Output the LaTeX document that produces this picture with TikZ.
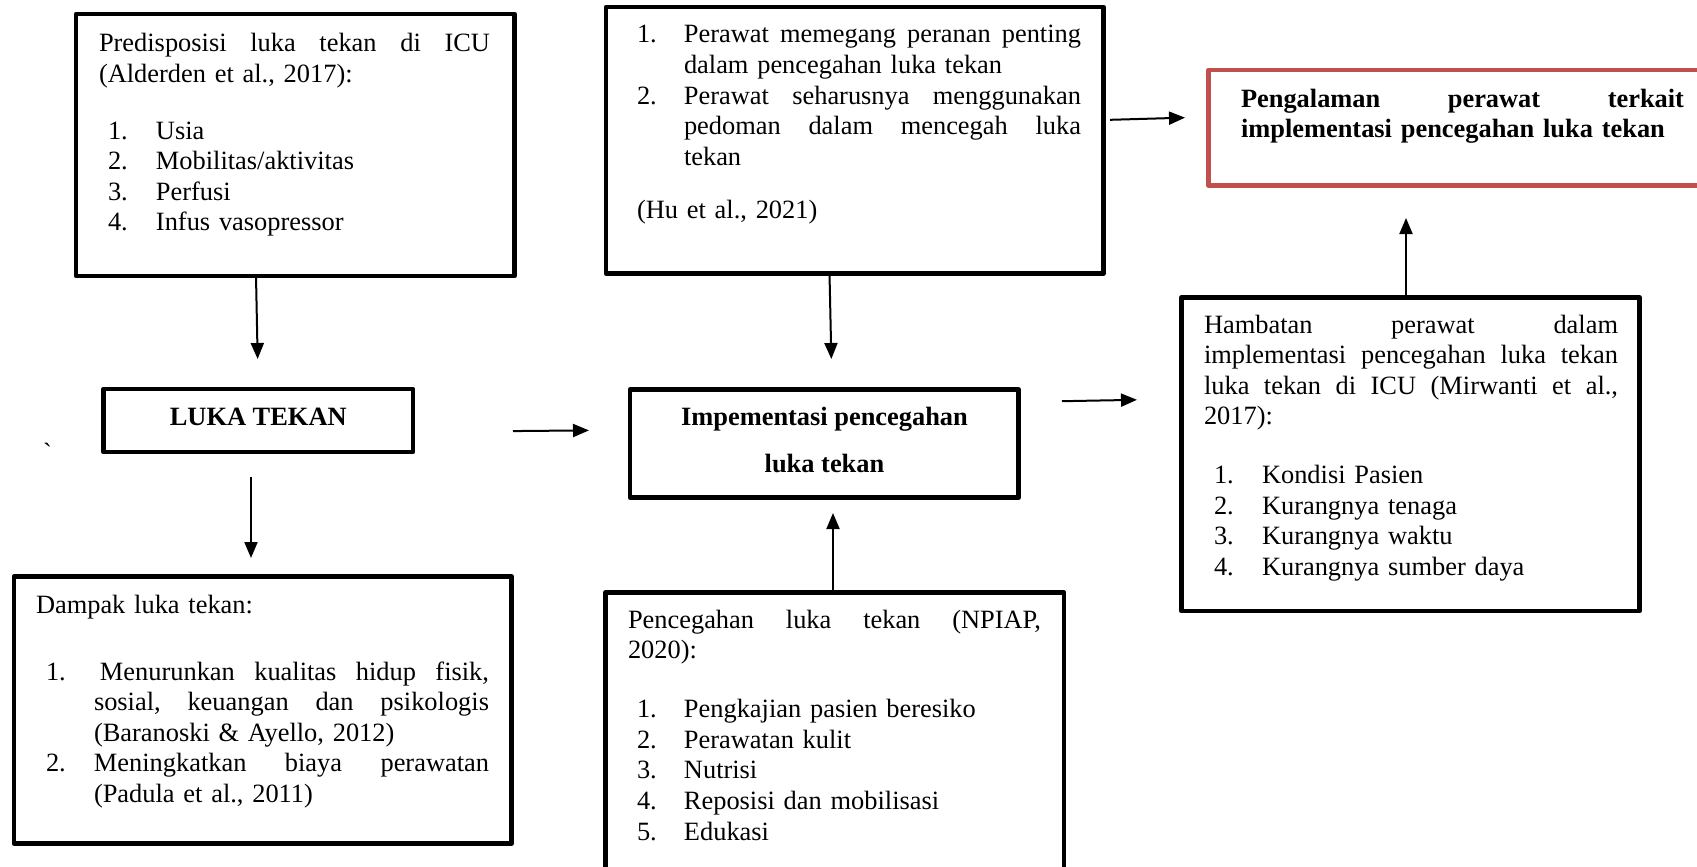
\documentclass[tikz,border=0pt]{standalone}
\usepackage{fontspec}
\setmainfont{Liberation Serif}
\newfontfamily\rawserif{Liberation Serif}
\usetikzlibrary{arrows.meta}
\definecolor{boxred}{RGB}{192,80,77}
\newcommand\jl[2]{\leavevmode\hbox to #1{\frenchspacing\spaceskip=0.25em plus 1fil\relax\ignorespaces #2\unskip}}
\begin{document}
\begin{tikzpicture}[x=1pt,y=-1pt,
  box/.style={draw, rectangle, line width=4.5pt, line join=round, outer sep=0pt, inner sep=0pt},
  arr/.style={line width=2pt, -{Triangle[length=16pt,width=13pt]}},
  txt/.style={inner sep=0pt, outer sep=0pt, anchor=base west, text width=520pt,
    font=\fontsize{26.4pt}{30.6pt}\selectfont},
  btxt/.style={inner sep=0pt, outer sep=0pt, anchor=base,
    font=\fontsize{26.4pt}{30.6pt}\selectfont\bfseries}
]
\useasboundingbox (0,0) rectangle (1697,867);
\fill[white] (0,0) rectangle (1697,867);
\clip (0,0) rectangle (1697,867);

% boxes
\node[box, minimum width=438.5pt, minimum height=262pt] (P) at (295.25,145) {};
\node[box, minimum width=497.5pt, minimum height=266.5pt] (T) at (854.75,140.25) {};
\node[box, draw=boxred, minimum width=501.5pt, minimum height=115.5pt] (R) at (1459.25,127.75) {};
\node[box, minimum width=309.5pt, minimum height=63pt] (L) at (258.25,420.5) {};
\node[box, minimum width=388.5pt, minimum height=108pt] (I) at (824.25,443.5) {};
\node[box, minimum width=458pt, minimum height=313.5pt] (H) at (1410.5,454.25) {};
\node[box, minimum width=497.5pt, minimum height=267pt] (D) at (262.75,710) {};
\node[box, minimum width=458.5pt, minimum height=276.5pt] (N) at (834.75,730.75) {};

% texts
\node[txt] (Ptxt) at (99,52) {%
\jl{391pt}{Predisposisi luka tekan di ICU}\\
(Alderden et al., 2017):\\[26pt]
\hspace*{9pt}\makebox[48pt][l]{1.}Usia\\
\hspace*{9pt}\makebox[48pt][l]{2.}Mobilitas/aktivitas\\
\hspace*{9pt}\makebox[48pt][l]{3.}Perfusi\\
\hspace*{9pt}\makebox[48pt][l]{4.}Infus vasopressor};

\node[txt] (Ttxt) at (637,43) {%
\makebox[47pt][l]{1.}\jl{397pt}{Perawat memegang peranan penting}\\
\hspace*{47pt}dalam pencegahan luka tekan\\
\makebox[47pt][l]{2.}\jl{397pt}{Perawat seharusnya menggunakan}\\
\hspace*{47pt}\jl{397pt}{pedoman dalam mencegah luka}\\
\hspace*{47pt}tekan\\[22.4pt]
(Hu et al., 2021)};

\node[txt, font=\fontsize{26.4pt}{30.6pt}\selectfont\bfseries] (Rtxt) at (1241,107) {%
\jl{443pt}{Pengalaman perawat terkait}\\
implementasi pencegahan luka tekan};

\node[btxt] (Ltxt) at (258.25,425) {LUKA TEKAN};
\node[btxt] (Itxt1) at (824.5,425) {Impementasi pencegahan};
\node[btxt] (Itxt2) at (824.5,472) {luka tekan};

\node[txt] (Htxt) at (1204,333) {%
\jl{414pt}{Hambatan perawat dalam}\\
\jl{414pt}{implementasi pencegahan luka tekan}\\
\jl{414pt}{luka tekan di ICU (Mirwanti et al.,}\\
2017):\\[28pt]
\hspace*{10pt}\makebox[48pt][l]{1.}Kondisi Pasien\\
\hspace*{10pt}\makebox[48pt][l]{2.}Kurangnya tenaga\\
\hspace*{10pt}\makebox[48pt][l]{3.}Kurangnya waktu\\
\hspace*{10pt}\makebox[48pt][l]{4.}Kurangnya sumber daya};

\node[txt] (Dtxt) at (36,613) {%
Dampak luka tekan:\\[36.4pt]
\hspace*{10pt}\makebox[48pt][l]{1.}\hspace*{6pt}\jl{389pt}{Menurunkan kualitas hidup fisik,}\\
\hspace*{58pt}\jl{395pt}{sosial, keuangan dan psikologis}\\
\hspace*{58pt}(Baranoski \& Ayello, 2012)\\
\hspace*{10pt}\makebox[48pt][l]{2.}\jl{395pt}{Meningkatkan biaya perawatan}\\
\hspace*{58pt}(Padula et al., 2011)};

\node[txt] (Ntxt) at (628,628) {%
\jl{413pt}{Pencegahan luka tekan (NPIAP,}\\
2020):\\[28.4pt]
\hspace*{9pt}\makebox[47pt][l]{1.}Pengkajian pasien beresiko\\
\hspace*{9pt}\makebox[47pt][l]{2.}Perawatan kulit\\
\hspace*{9pt}\makebox[47pt][l]{3.}Nutrisi\\
\hspace*{9pt}\makebox[47pt][l]{4.}Reposisi dan mobilisasi\\
\hspace*{9pt}\makebox[47pt][l]{5.}Edukasi};

\node[inner sep=0pt, anchor=base west, font=\rawserif\fontsize{26.4pt}{30.6pt}\selectfont] (grave) at (43,461) {`};

% connectors
\draw[arr, shorten >=30pt] ([xshift=-39.25pt]P.south) -- (L.north);
\draw[arr, shorten >=30.5pt] ([xshift=-25.25pt]T.south) -- ([xshift=7.75pt]I.north);
\draw[arr, shorten <=6.5pt, shorten >=23.5pt] ([yshift=20.25pt]T.east) -- ([yshift=10.75pt]R.west);
\draw[arr, shorten <=100pt, shorten >=41pt] ([yshift=-11.5pt]L.east) -- ([yshift=13.5pt]I.west);
\draw[arr, shorten <=43.5pt, shorten >=44.5pt] ([yshift=41.5pt]I.east) -- ([yshift=55.25pt]H.west);
\draw[arr, shorten >=32.5pt] ([xshift=-4.5pt]H.north) -- ([xshift=-53.25pt]R.south);
\draw[arr, shorten <=25pt, shorten >=18.5pt] ([xshift=-7.25pt]L.south) -- ([xshift=-11.75pt]D.north);
\draw[arr, shorten >=15.5pt] ([xshift=-1.75pt]N.north) -- ([xshift=8.75pt]I.south);
\end{tikzpicture}
\end{document}
